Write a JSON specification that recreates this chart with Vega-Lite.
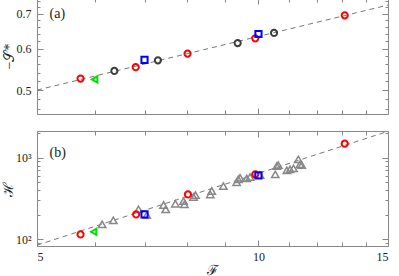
{
  "$schema": "https://vega.github.io/schema/vega-lite/v6.json",
  "background": "white",
  "padding": {"left": 0, "top": -3, "right": 5, "bottom": 0},
  "spacing": 13,
  "config": {
    "view": {"stroke": "#888", "strokeWidth": 1},
    "axis": {"domain": false, "grid": false, "tickColor": "#888", "tickWidth": 1, "labelFont": "Liberation Serif, serif", "labelFontSize": 12, "labelColor": "#222", "titleFont": "Liberation Serif, DejaVu Serif, serif", "titleFontWeight": "normal", "titleFontSize": 14, "titleColor": "#222", "titlePadding": 0}
  },
  "datasets": {
    "lineA": [{"F": 5, "v": 0.5}, {"F": 15, "v": 0.727}],
    "lineB": [{"F": 5, "v": 85}, {"F": 15, "v": 2100}],
    "labA": [{"F": 5.2, "v": 0.7, "t": "(a)"}],
    "labB": [{"F": 5.2, "v": 1130, "t": "(b)"}],
    "topPts": [
      {"kind": "dark", "F": 6.37, "v": 0.544},
      {"kind": "dark", "F": 7.30, "v": 0.570},
      {"kind": "dark", "F": 9.37, "v": 0.615},
      {"kind": "dark", "F": 10.5, "v": 0.643},
      {"kind": "red", "F": 5.73, "v": 0.526},
      {"kind": "red", "F": 6.81, "v": 0.553},
      {"kind": "red", "F": 8.01, "v": 0.587},
      {"kind": "red", "F": 9.9, "v": 0.628},
      {"kind": "red", "F": 13.1, "v": 0.695},
      {"kind": "blue", "F": 7.0, "v": 0.571},
      {"kind": "blue", "F": 10.0, "v": 0.640},
      {"kind": "green", "F": 5.99, "v": 0.524}
    ],
    "botPts": [
      {"kind": "red", "F": 5.73, "v": 115},
      {"kind": "red", "F": 6.82, "v": 202},
      {"kind": "red", "F": 8.02, "v": 355},
      {"kind": "red", "F": 9.9, "v": 625},
      {"kind": "red", "F": 13.1, "v": 1483},
      {"kind": "blue", "F": 7.0, "v": 202},
      {"kind": "blue", "F": 10.0, "v": 607},
      {"kind": "green", "F": 5.97, "v": 124}
    ],
    "tri": [
      {"F": 6.13, "v": 153}, {"F": 6.35, "v": 171}, {"F": 6.87, "v": 233}, {"F": 7.05, "v": 198},
      {"F": 7.43, "v": 263}, {"F": 7.48, "v": 233}, {"F": 7.71, "v": 273}, {"F": 7.91, "v": 294},
      {"F": 7.93, "v": 268}, {"F": 8.16, "v": 330}, {"F": 8.21, "v": 349}, {"F": 8.60, "v": 355},
      {"F": 8.64, "v": 390}, {"F": 8.96, "v": 449}, {"F": 9.34, "v": 500}, {"F": 9.39, "v": 542},
      {"F": 9.44, "v": 567}, {"F": 9.64, "v": 558}, {"F": 9.74, "v": 579}, {"F": 10.05, "v": 612},
      {"F": 10.54, "v": 625}, {"F": 10.59, "v": 789}, {"F": 10.64, "v": 811}, {"F": 10.93, "v": 699},
      {"F": 11.04, "v": 719}, {"F": 11.16, "v": 740}, {"F": 11.33, "v": 953}, {"F": 11.39, "v": 828},
      {"F": 11.45, "v": 811}
    ]
  },
  "vconcat": [
    {
      "width": 351,
      "height": 116,
      "layer": [
        {
          "data": {"name": "lineA"},
          "mark": {"type": "line", "stroke": "#777", "strokeDash": [5, 4], "strokeWidth": 1},
          "encoding": {
            "x": {"field": "F", "type": "quantitative", "scale": {"type": "log", "domain": [5, 15], "nice": false},
              "axis": {"orient": "bottom", "title": null, "values": [5, 6, 7, 8, 9, 10, 11, 12, 13, 14, 15], "labels": false,
                "tickSize": {"condition": {"test": "datum.value == 5 || datum.value == 10 || datum.value == 15", "value": -6}, "value": -4}}},
            "y": {"field": "v", "type": "quantitative", "scale": {"type": "log", "domain": [0.45, 0.75], "nice": false},
              "axis": {"orient": "left", "title": "−𝒮*", "values": [0.46, 0.48, 0.5, 0.52, 0.54, 0.56, 0.58, 0.6, 0.62, 0.64, 0.66, 0.68, 0.7, 0.72, 0.74],
                "labelExpr": "(abs(datum.value-0.5)<0.001 || abs(datum.value-0.6)<0.001 || abs(datum.value-0.7)<0.001) ? format(datum.value, '.1f') : ''",
                "labelPadding": 12,
                "tickSize": {"condition": {"test": "abs(datum.value-0.5)<0.001 || abs(datum.value-0.6)<0.001 || abs(datum.value-0.7)<0.001", "value": -6}, "value": -3}}}
          }
        },
        {
          "data": {"name": "topPts"},
          "mark": {"type": "point", "filled": false, "strokeWidth": 2, "opacity": 1},
          "encoding": {
            "x": {"field": "F", "type": "quantitative", "scale": {"type": "log", "domain": [5, 15], "nice": false}, "axis": null},
            "y": {"field": "v", "type": "quantitative", "scale": {"type": "log", "domain": [0.45, 0.75], "nice": false}, "axis": null},
            "shape": {"field": "kind", "type": "nominal", "scale": {"domain": ["dark", "red", "blue", "green"], "range": ["circle", "circle", "square", "triangle-left"]}, "legend": null},
            "stroke": {"field": "kind", "type": "nominal", "scale": {"domain": ["dark", "red", "blue", "green"], "range": ["#3c3c3c", "#ff0000", "#0000ff", "#00dd00"]}, "legend": null},
            "size": {"field": "kind", "type": "nominal", "scale": {"domain": ["dark", "red", "blue", "green"], "range": [38, 38, 30, 55]}, "legend": null}
          }
        },
        {
          "data": {"name": "labA"},
          "mark": {"type": "text", "align": "left", "baseline": "middle", "font": "Liberation Serif, serif", "fontSize": 14, "color": "#222"},
          "encoding": {
            "x": {"field": "F", "type": "quantitative", "scale": {"type": "log", "domain": [5, 15], "nice": false}, "axis": null},
            "y": {"field": "v", "type": "quantitative", "scale": {"type": "log", "domain": [0.45, 0.75], "nice": false}, "axis": null},
            "text": {"field": "t"}
          }
        },
        {
          "data": {"name": "lineA"},
          "mark": {"type": "point", "opacity": 0, "size": 1},
          "encoding": {
            "x": {"field": "F", "type": "quantitative", "scale": {"type": "log", "domain": [5, 15], "nice": false},
              "axis": {"orient": "top", "title": null, "values": [5, 6, 7, 8, 9, 10, 11, 12, 13, 14, 15], "labels": false,
                "tickSize": {"condition": {"test": "datum.value == 5 || datum.value == 10 || datum.value == 15", "value": -6}, "value": -4}}},
            "y": {"field": "v", "type": "quantitative", "scale": {"type": "log", "domain": [0.45, 0.75], "nice": false},
              "axis": {"orient": "right", "title": null, "labels": false, "values": [0.46, 0.48, 0.5, 0.52, 0.54, 0.56, 0.58, 0.6, 0.62, 0.64, 0.66, 0.68, 0.7, 0.72, 0.74],
                "tickSize": {"condition": {"test": "abs(datum.value-0.5)<0.001 || abs(datum.value-0.6)<0.001 || abs(datum.value-0.7)<0.001", "value": -6}, "value": -3}}}
          }
        }
      ],
      "resolve": {"axis": {"x": "independent", "y": "independent"}}
    },
    {
      "width": 351,
      "height": 115,
      "layer": [
        {
          "data": {"name": "lineB"},
          "mark": {"type": "line", "stroke": "#777", "strokeDash": [5, 4], "strokeWidth": 1},
          "encoding": {
            "x": {"field": "F", "type": "quantitative", "scale": {"type": "log", "domain": [5, 15], "nice": false},
              "axis": {"orient": "bottom", "title": "ℱ", "values": [5, 6, 7, 8, 9, 10, 11, 12, 13, 14, 15],
                "labelExpr": "(datum.value == 5 || datum.value == 10 || datum.value == 15) ? format(datum.value, 'd') : ''",
                "labelPadding": 11, "titlePadding": 1,
                "tickSize": {"condition": {"test": "datum.value == 5 || datum.value == 10 || datum.value == 15", "value": -6}, "value": -4}}},
            "y": {"field": "v", "type": "quantitative", "scale": {"type": "log", "domain": [83, 2120], "nice": false},
              "axis": {"orient": "left", "title": "ℋ", "values": [90, 100, 200, 300, 400, 500, 600, 700, 800, 900, 1000, 2000],
                "labelExpr": "datum.value == 100 ? '10²' : (datum.value == 1000 ? '10³' : '')",
                "labelPadding": 12,
                "tickSize": {"condition": {"test": "datum.value == 100 || datum.value == 1000", "value": -6}, "value": -3}}}
          }
        },
        {
          "data": {"name": "tri"},
          "mark": {"type": "point", "shape": "triangle-up", "filled": false, "stroke": "#888", "strokeWidth": 1.5, "size": 55, "opacity": 1},
          "encoding": {
            "x": {"field": "F", "type": "quantitative", "scale": {"type": "log", "domain": [5, 15], "nice": false}, "axis": null},
            "y": {"field": "v", "type": "quantitative", "scale": {"type": "log", "domain": [83, 2120], "nice": false}, "axis": null}
          }
        },
        {
          "data": {"name": "botPts"},
          "mark": {"type": "point", "filled": false, "strokeWidth": 2, "opacity": 1},
          "encoding": {
            "x": {"field": "F", "type": "quantitative", "scale": {"type": "log", "domain": [5, 15], "nice": false}, "axis": null},
            "y": {"field": "v", "type": "quantitative", "scale": {"type": "log", "domain": [83, 2120], "nice": false}, "axis": null},
            "shape": {"field": "kind", "type": "nominal", "scale": {"domain": ["dark", "red", "blue", "green"], "range": ["circle", "circle", "square", "triangle-left"]}, "legend": null},
            "stroke": {"field": "kind", "type": "nominal", "scale": {"domain": ["dark", "red", "blue", "green"], "range": ["#3c3c3c", "#ff0000", "#0000ff", "#00dd00"]}, "legend": null},
            "size": {"field": "kind", "type": "nominal", "scale": {"domain": ["dark", "red", "blue", "green"], "range": [38, 38, 30, 55]}, "legend": null}
          }
        },
        {
          "data": {"name": "labB"},
          "mark": {"type": "text", "align": "left", "baseline": "middle", "font": "Liberation Serif, serif", "fontSize": 14, "color": "#222"},
          "encoding": {
            "x": {"field": "F", "type": "quantitative", "scale": {"type": "log", "domain": [5, 15], "nice": false}, "axis": null},
            "y": {"field": "v", "type": "quantitative", "scale": {"type": "log", "domain": [83, 2120], "nice": false}, "axis": null},
            "text": {"field": "t"}
          }
        },
        {
          "data": {"name": "lineB"},
          "mark": {"type": "point", "opacity": 0, "size": 1},
          "encoding": {
            "x": {"field": "F", "type": "quantitative", "scale": {"type": "log", "domain": [5, 15], "nice": false},
              "axis": {"orient": "top", "title": null, "values": [5, 6, 7, 8, 9, 10, 11, 12, 13, 14, 15], "labels": false,
                "tickSize": {"condition": {"test": "datum.value == 5 || datum.value == 10 || datum.value == 15", "value": -6}, "value": -4}}},
            "y": {"field": "v", "type": "quantitative", "scale": {"type": "log", "domain": [83, 2120], "nice": false},
              "axis": {"orient": "right", "title": null, "labels": false, "values": [90, 100, 200, 300, 400, 500, 600, 700, 800, 900, 1000, 2000],
                "tickSize": {"condition": {"test": "datum.value == 100 || datum.value == 1000", "value": -6}, "value": -3}}}
          }
        }
      ],
      "resolve": {"axis": {"x": "independent", "y": "independent"}}
    }
  ]
}
